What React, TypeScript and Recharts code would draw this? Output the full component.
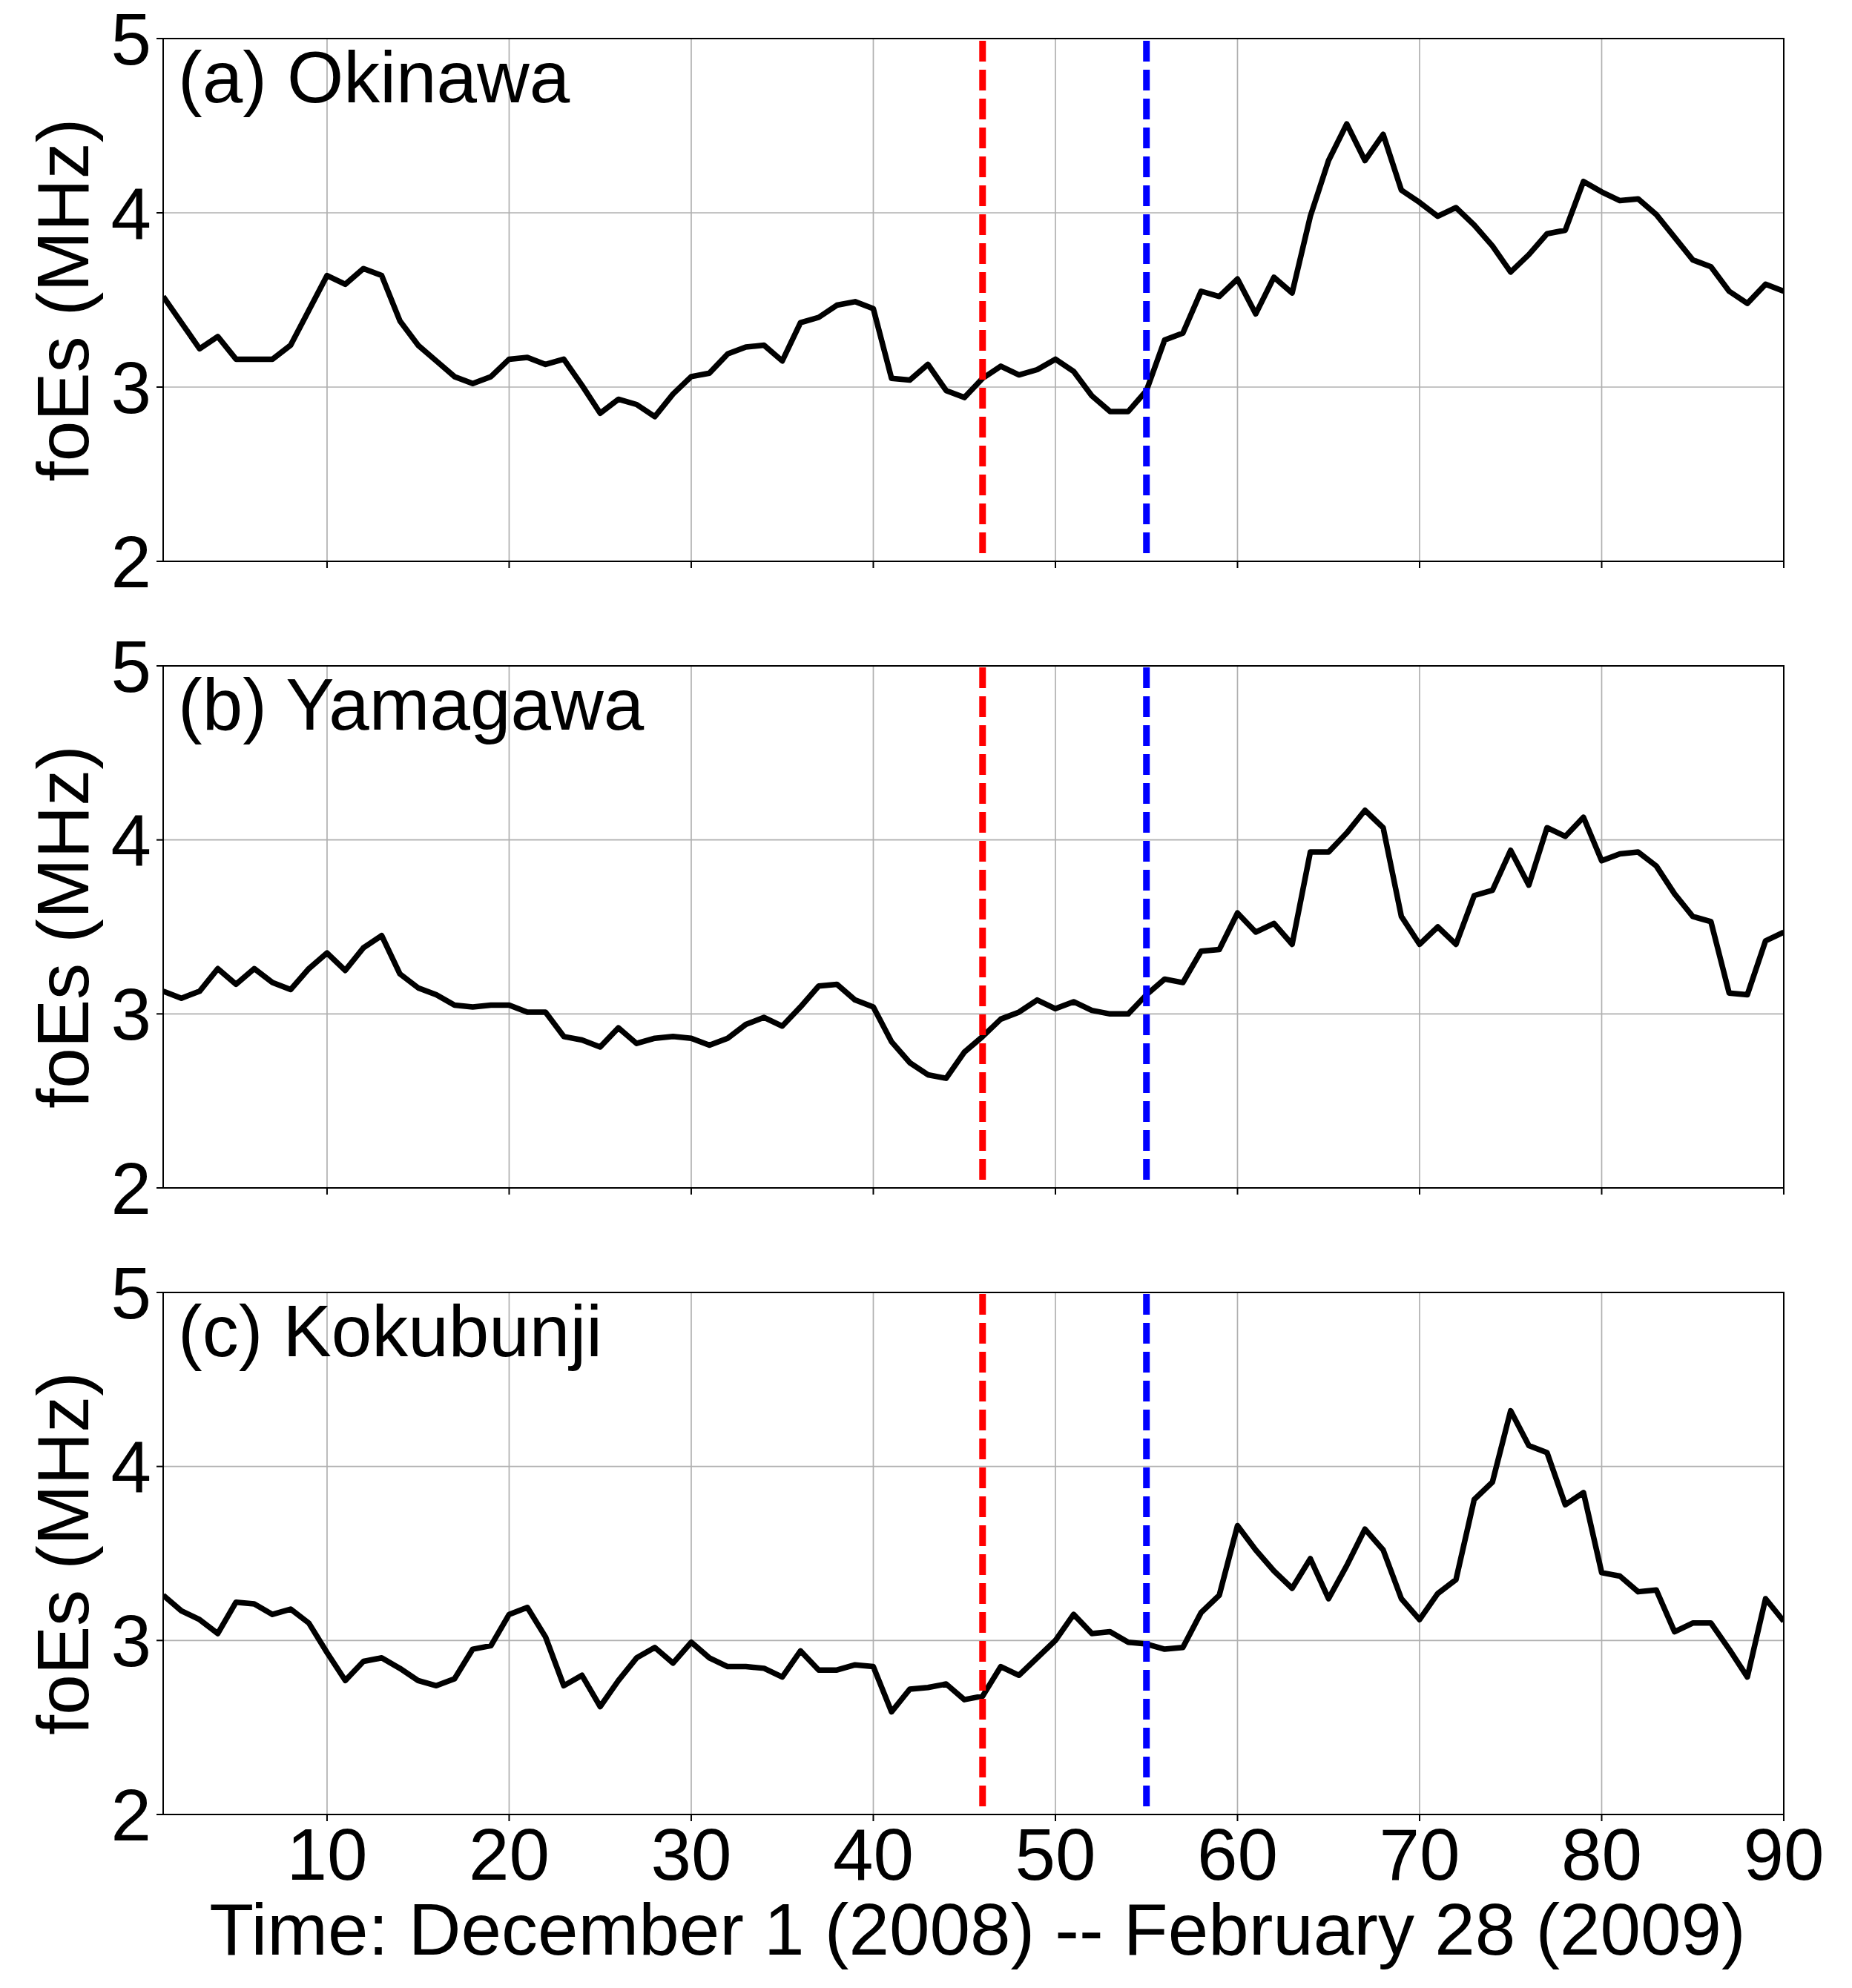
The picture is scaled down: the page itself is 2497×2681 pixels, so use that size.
import React from 'react';
import { LineChart, Line, XAxis, YAxis, CartesianGrid, ReferenceLine, ReferenceArea } from 'recharts';

const DAYS = [1,2,3,4,5,6,7,8,9,10,11,12,13,14,15,16,17,18,19,20,21,22,23,24,25,26,27,28,29,30,31,32,33,34,35,36,37,38,39,40,41,42,43,44,45,46,47,48,49,50,51,52,53,54,55,56,57,58,59,60,61,62,63,64,65,66,67,68,69,70,71,72,73,74,75,76,77,78,79,80,81,82,83,84,85,86,87,88,89,90];

const OKINAWA = [3.52,3.37,3.22,3.29,3.16,3.16,3.16,3.24,3.44,3.64, 3.59,3.68,3.64,3.38,3.24,3.15,3.06,3.02,3.06,3.16, 3.17,3.13,3.16,3.01,2.85,2.93,2.90,2.83,2.96,3.06, 3.08,3.19,3.23,3.24,3.15,3.37,3.40,3.47,3.49,3.45, 3.05,3.04,3.13,2.98,2.94,3.05,3.12,3.07,3.10,3.16, 3.09,2.95,2.86,2.86,2.98,3.27,3.31,3.55,3.52,3.62, 3.42,3.63,3.54,3.98,4.30,4.51,4.30,4.45,4.13,4.06, 3.98,4.03,3.93,3.81,3.66,3.76,3.88,3.90,4.18,4.12, 4.07,4.08,3.99,3.86,3.73,3.69,3.55,3.48,3.59,3.55];

const YAMAGAWA = [3.13,3.09,3.13,3.26,3.17,3.26,3.18,3.14,3.26,3.35, 3.25,3.38,3.45,3.23,3.15,3.11,3.05,3.04,3.05,3.05, 3.01,3.01,2.87,2.85,2.81,2.92,2.83,2.86,2.87,2.86, 2.82,2.86,2.94,2.98,2.93,3.04,3.16,3.17,3.08,3.04, 2.84,2.72,2.65,2.63,2.78,2.87,2.97,3.01,3.08,3.03, 3.07,3.02,3.00,3.00,3.11,3.20,3.18,3.36,3.37,3.58, 3.47,3.52,3.40,3.93,3.93,4.04,4.17,4.07,3.56,3.40, 3.50,3.40,3.68,3.71,3.94,3.74,4.07,4.02,4.13,3.88, 3.92,3.93,3.85,3.69,3.56,3.53,3.12,3.11,3.42,3.47];

const KOKUBUNJI = [3.26,3.17,3.12,3.04,3.22,3.21,3.15,3.18,3.10,2.93, 2.77,2.88,2.90,2.84,2.77,2.74,2.78,2.95,2.97,3.15, 3.19,3.02,2.74,2.80,2.62,2.77,2.90,2.96,2.87,2.99, 2.90,2.85,2.85,2.84,2.79,2.94,2.83,2.83,2.86,2.85, 2.59,2.72,2.73,2.75,2.66,2.68,2.85,2.80,2.90,3.00, 3.15,3.04,3.05,2.99,2.98,2.95,2.96,3.16,3.26,3.66, 3.52,3.40,3.30,3.47,3.24,3.43,3.64,3.52,3.24,3.12, 3.27,3.35,3.81,3.91,4.32,4.12,4.08,3.78,3.85,3.39, 3.37,3.28,3.29,3.05,3.10,3.10,2.95,2.79,3.24,3.11];

const X_TICKS = [10, 20, 30, 40, 50, 60, 70, 80, 90];
const Y_TICKS = [2, 3, 4, 5];
const RED_DAY = 46;
const BLUE_DAY = 55;

const TITLES = ['(a) Okinawa', '(b) Yamagawa', '(c) Kokubunji'];
const Y_LABEL = 'foEs (MHz)';
const X_LABEL = 'Time: December 1 (2008) -- February 28 (2009)';

const FONT = 'Arial, "Liberation Sans", Helvetica, sans-serif';
const FS = 98;

const W = 2497;
const H = 2681;

type PanelProps = {
  values: number[];
  top: number;
  height: number;
  marginTop: number;
  marginBottom: number;
  xAxisHeight: number;
  showXLabels: boolean;
};

function Panel({ values, top, height, marginTop, marginBottom, xAxisHeight, showXLabels }: PanelProps) {
  const data = DAYS.map((d, i) => ({ day: d, v: values[i] }));
  const tickStyle = { fontSize: FS, fill: '#000', fontFamily: FONT };
  return (
    <div style={{ position: 'absolute', left: 0, top, width: W, height }}>
      <LineChart width={W} height={height} data={data} margin={{ top: marginTop, right: 92, bottom: marginBottom, left: 0 }}>
        <CartesianGrid stroke="#b0b0b0" strokeWidth={1.7} />
        <XAxis
          dataKey="day"
          type="number"
          domain={[1, 90]}
          ticks={X_TICKS}
          interval={0}
          allowDataOverflow
          height={xAxisHeight}
          tickSize={9}
          tickMargin={9}
          tick={tickStyle}
          tickFormatter={(v: number) => (showXLabels ? String(v) : '')}
          axisLine={{ stroke: '#000', strokeWidth: 2 }}
          tickLine={{ stroke: '#000', strokeWidth: 2 }}
        />
        <YAxis
          type="number"
          domain={[2, 5]}
          ticks={Y_TICKS}
          interval={0}
          allowDataOverflow
          width={220}
          tickSize={9}
          tickMargin={7}
          tick={tickStyle}
          axisLine={{ stroke: '#000', strokeWidth: 2 }}
          tickLine={{ stroke: '#000', strokeWidth: 2 }}
        />
        <ReferenceArea x1={1} x2={90} y1={2} y2={5} fill="none" fillOpacity={0} stroke="#000" strokeWidth={2} ifOverflow="visible" />
        <Line
          type="linear"
          dataKey="v"
          stroke="#000"
          strokeWidth={7.5}
          strokeLinejoin="round"
          dot={false}
          activeDot={false}
          isAnimationActive={false}
        />
        <ReferenceLine x={RED_DAY} stroke="#ff0000" strokeWidth={9} strokeDasharray="28 11" strokeDashoffset={28} ifOverflow="visible" />
        <ReferenceLine x={BLUE_DAY} stroke="#0000ff" strokeWidth={9} strokeDasharray="28 11" strokeDashoffset={28} ifOverflow="visible" />
      </LineChart>
    </div>
  );
}

export default function App() {
  const panelCentersY = [404.5, 1250, 2095];
  const titleBaselines = [138, 984, 1829];
  return (
    <div style={{ position: 'relative', width: W, height: H, background: '#fff', fontFamily: FONT }}>
      <style>{'body{margin:0;background:#fff;}'}</style>
      <Panel values={OKINAWA} top={0} height={840} marginTop={52} marginBottom={63} xAxisHeight={20} showXLabels={false} />
      <Panel values={YAMAGAWA} top={800} height={880} marginTop={98} marginBottom={58} xAxisHeight={20} showXLabels={false} />
      <Panel values={KOKUBUNJI} top={1650} height={1031} marginTop={93} marginBottom={0} xAxisHeight={234} showXLabels={true} />
      <svg width={W} height={H} style={{ position: 'absolute', left: 0, top: 0, pointerEvents: 'none' }}>
        {TITLES.map((t, i) => (
          <text key={t} x={240} y={titleBaselines[i]} fontSize={FS} fontFamily={FONT} fill="#000">{t}</text>
        ))}
        {panelCentersY.map((cy, i) => (
          <text key={i} x={119} y={cy} fontSize={FS} fontFamily={FONT} fill="#000" textAnchor="middle" transform={`rotate(-90 119 ${cy})`}>{Y_LABEL}</text>
        ))}
        <text x={1318} y={2636} fontSize={FS} fontFamily={FONT} fill="#000" textAnchor="middle">{X_LABEL}</text>
      </svg>
    </div>
  );
}
